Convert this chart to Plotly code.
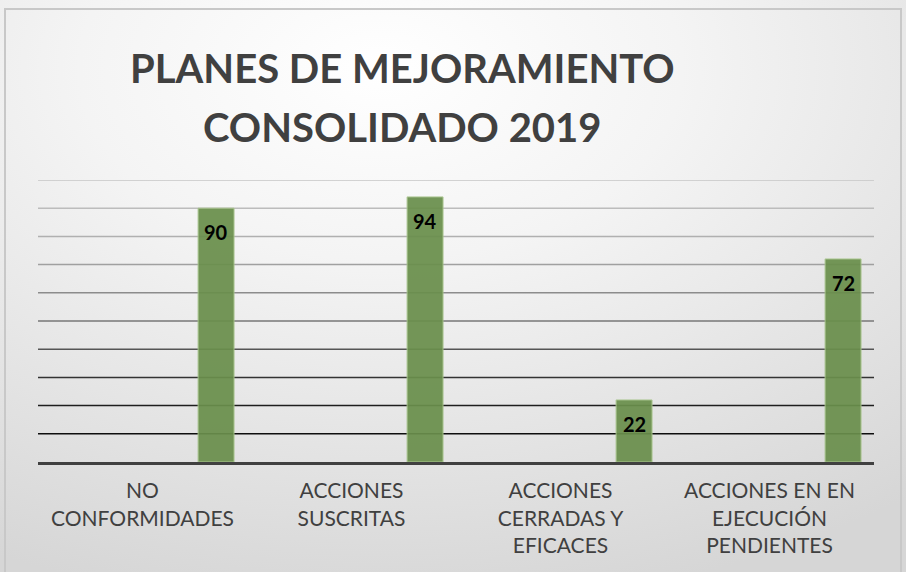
import plotly.graph_objects as go
import base64

# ---- data ----
categories = [
    "NO<br>CONFORMIDADES",
    "ACCIONES<br>SUSCRITAS",
    "ACCIONES<br>CERRADAS Y<br>EFICACES",
    "ACCIONES EN EN<br>EJECUCIÓN<br>PENDIENTES",
]
values = [90, 94, 22, 72]
grid_values = [10, 20, 30, 40, 50, 60, 70, 80, 90, 100]
title_lines = ["PLANES DE MEJORAMIENTO", "CONSOLIDADO 2019"]

# ---- styles ----
grid_colors = ["#0e0e0e", "#1e1e1e", "#333333", "#555555", "#777777",
               "#8c8c8c", "#a0a0a0", "#b0b0b0", "#bcbcbc", "#c6c6c6"]
W, H = 906, 572
L, R, T, B = 38, 32, 180, 110
PW, PH = W - L - R, H - T - B
bar_offset = 0.266
bar_width = 0.172

svg = f'''<svg xmlns="http://www.w3.org/2000/svg" width="{W}" height="{H}" viewBox="0 0 {W} {H}">
<defs><radialGradient id="g" cx="0.42" cy="0.12" r="0.95" gradientUnits="objectBoundingBox">
<stop offset="0" stop-color="#ffffff"/><stop offset="0.35" stop-color="#f4f4f4"/>
<stop offset="1" stop-color="#d6d6d6"/></radialGradient></defs>
<rect width="{W}" height="{H}" fill="url(#g)"/></svg>'''
bg_uri = "data:image/svg+xml;base64," + base64.b64encode(svg.encode()).decode()

fig = go.Figure()
fig.add_trace(go.Bar(
    x=categories, y=values,
    offset=bar_offset, width=bar_width,
    marker=dict(color="#6a8f4c", opacity=0.93,
                line=dict(color="#a8c48c", width=1)),
    hoverinfo="skip",
))

shapes = []
for v, c in zip(grid_values, grid_colors):
    shapes.append(dict(type="line", xref="paper", yref="y", x0=0, x1=1, y0=v, y1=v,
                       line=dict(color=c, width=1.5), layer="below"))
# outer border
shapes.append(dict(type="rect", xref="paper", yref="paper",
                   x0=(5 - L) / PW, x1=(901 - L) / PW,
                   y0=(H - B - 600) / PH, y1=(H - B - 9) / PH,
                   line=dict(color="#c8c8c8", width=2), fillcolor="rgba(0,0,0,0)",
                   layer="above"))

annotations = []
for i, v in enumerate(values):
    annotations.append(dict(x=i + bar_offset + bar_width / 2, y=v, xref="x", yref="y",
                            text=str(v), showarrow=False, yanchor="top", yshift=-10,
                            font=dict(family="Lato", size=20, color="#000000", weight="bold")))
title_y_px = [68, 127]
for line, ypx in zip(title_lines, title_y_px):
    annotations.append(dict(x=(402 - L) / PW, y=(H - B - ypx) / PH, xref="paper", yref="paper",
                            text=line, showarrow=False, xanchor="center", yanchor="middle",
                            font=dict(family="Lato", size=40, color="#404040", weight="bold")))

fig.update_layout(
    width=W, height=H,
    margin=dict(l=L, r=R, t=T, b=B),
    paper_bgcolor="#ffffff", plot_bgcolor="rgba(0,0,0,0)",
    showlegend=False,
    images=[dict(source=bg_uri, xref="paper", yref="paper",
                 x=-L / PW, y=1 + T / PH, sizex=W / PW, sizey=H / PH,
                 sizing="stretch", xanchor="left", yanchor="top", layer="below")],
    shapes=shapes,
    annotations=annotations,
    xaxis=dict(type="category", showgrid=False, zeroline=False,
               showline=True, linecolor="#404040", linewidth=3,
               ticks="", ticklabelstandoff=8,
               tickfont=dict(family="Lato", size=21, color="#404040")),
    yaxis=dict(range=[0, 100], showgrid=False, zeroline=False,
               showticklabels=False, showline=False),
)

fig.write_html("out.html", config={"displayModeBar": False},
               post_script="document.body.style.margin='0';document.body.style.overflow='hidden';")
